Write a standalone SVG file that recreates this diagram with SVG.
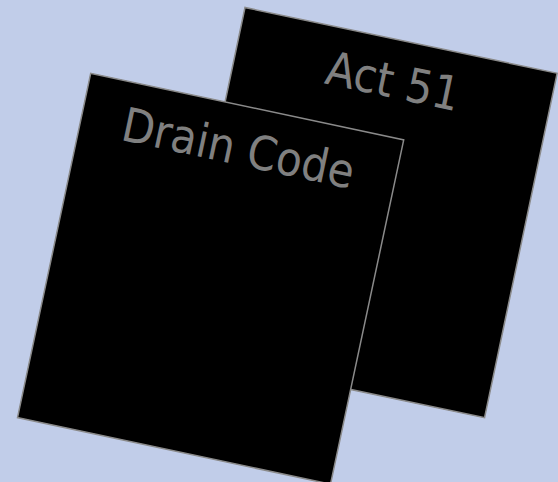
<svg xmlns="http://www.w3.org/2000/svg" width="558" height="482" viewBox="0 0 558 482">
<style>
.card{fill:#000;stroke:#8a8a8a;stroke-width:1.5}
.lbl{font-family:"DejaVu Sans Condensed","DejaVu Sans",sans-serif;font-size:47px;fill:#808080;text-anchor:middle}
</style>
<rect width="558" height="482" fill="#c1cde9"/>
<g id="act51" transform="translate(245,7.5) rotate(11.9)">
<rect class="card" x="0" y="0" width="319" height="352"/>
<text class="lbl" x="160" y="58">Act 51</text>
</g>
<g id="draincode" transform="translate(90.7,73.3) rotate(12)">
<rect class="card" x="0" y="0" width="320" height="352"/>
<text class="lbl" x="160" y="59">Drain Code</text>
</g>
<g id="connectors"/>
</svg>
